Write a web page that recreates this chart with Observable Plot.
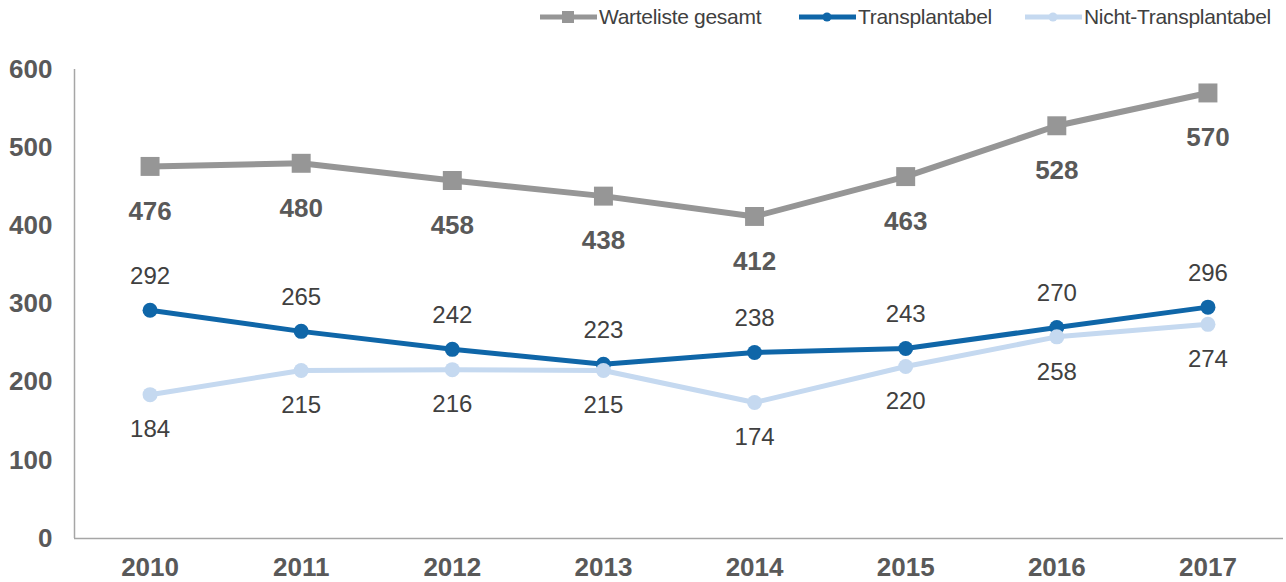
<!DOCTYPE html>
<html>
<head>
<meta charset="utf-8">
<script src="https://cdn.jsdelivr.net/npm/d3@7"></script>
<script src="https://cdn.jsdelivr.net/npm/@observablehq/plot@0.6"></script>
<style>
  html, body { margin: 0; padding: 0; background: #fff; }
  body { width: 1286px; height: 582px; overflow: hidden; font-family: "Liberation Sans", Arial, sans-serif; }
  #legend { position: relative; height: 36px; }
  .item { position: absolute; top: 5px; display: flex; align-items: center; font-size: 21px; color: #404040; letter-spacing: -0.3px; }
  .item svg { margin-right: 2px; }
</style>
</head>
<body>
<div id="legend"></div>
<div id="chart"></div>
<script>
const years = [2010, 2011, 2012, 2013, 2014, 2015, 2016, 2017];
const warteliste = [476, 480, 458, 438, 412, 463, 528, 570];
const transplantabel = [292, 265, 242, 223, 238, 243, 270, 296];
const nichtTransplantabel = [184, 215, 216, 215, 174, 220, 258, 274];
const seriesNames = ["Warteliste gesamt", "Transplantabel", "Nicht-Transplantabel"];
const yTicks = [0, 100, 200, 300, 400, 500, 600];

const colors = ["#969696", "#0f66a8", "#c5d9f0"];

const wData = years.map((y, i) => ({year: y, value: warteliste[i]}));
const tData = years.map((y, i) => ({year: y, value: transplantabel[i]}));
const nData = years.map((y, i) => ({year: y, value: nichtTransplantabel[i]}));

// Legend
const legendPos = [540, 799, 1025];
const legend = document.getElementById("legend");
seriesNames.forEach((name, i) => {
  const div = document.createElement("div");
  div.className = "item";
  div.style.left = legendPos[i] + "px";
  const marker = i === 0
    ? `<rect x="22" y="6" width="12" height="12" fill="${colors[i]}"/>`
    : `<circle cx="28" cy="12" r="4.5" fill="${colors[i]}"/>`;
  div.innerHTML = `<svg width="57" height="24"><line x1="0" x2="57" y1="12" y2="12" stroke="${colors[i]}" stroke-width="5" stroke-linecap="round"/>${marker}</svg><span>${name}</span>`;
  legend.appendChild(div);
});

const font = '"Liberation Sans", Arial, sans-serif';

const chart = Plot.plot({
  width: 1286,
  height: 546,
  marginTop: 33,
  marginBottom: 44,
  marginLeft: 74,
  marginRight: 3,
  style: {fontFamily: font, background: "#fff"},
  x: {domain: [2009.5, 2017.5], axis: null},
  y: {domain: [0, 600], axis: null},
  marks: [
    Plot.ruleY([0], {stroke: "#a6a6a6", strokeWidth: 1.5}),
    Plot.ruleX([2009.5], {y1: 0, y2: 600, stroke: "#a6a6a6", strokeWidth: 1.5}),
    Plot.text(yTicks, {x: 2009.5, y: d => d, text: d => String(d), dx: -22, textAnchor: "end", fontSize: 26, fontWeight: "bold", fill: "#595959"}),
    Plot.text(years, {x: d => d, y: 0, text: d => String(d), dy: 29, fontSize: 26, fontWeight: "bold", fill: "#595959"}),
    Plot.line(wData, {x: "year", y: "value", stroke: colors[0], strokeWidth: 6}),
    Plot.dot(wData, {x: "year", y: "value", symbol: "square", r: 10.7, fill: colors[0]}),
    Plot.line(tData, {x: "year", y: "value", stroke: colors[1], strokeWidth: 5}),
    Plot.dot(tData, {x: "year", y: "value", r: 7.5, fill: colors[1]}),
    Plot.line(nData, {x: "year", y: "value", stroke: colors[2], strokeWidth: 5}),
    Plot.dot(nData, {x: "year", y: "value", r: 7.5, fill: colors[2]}),
    Plot.text(wData, {x: "year", y: "value", text: d => String(d.value), dy: 45, fontSize: 26, fontWeight: "bold", fill: "#595959"}),
    Plot.text(tData, {x: "year", y: "value", text: d => String(d.value), dy: -34, fontSize: 24, fill: "#404040"}),
    Plot.text(nData, {x: "year", y: "value", text: d => String(d.value), dy: 35, fontSize: 24, fill: "#404040"})
  ]
});
document.getElementById("chart").appendChild(chart);
</script>
</body>
</html>
